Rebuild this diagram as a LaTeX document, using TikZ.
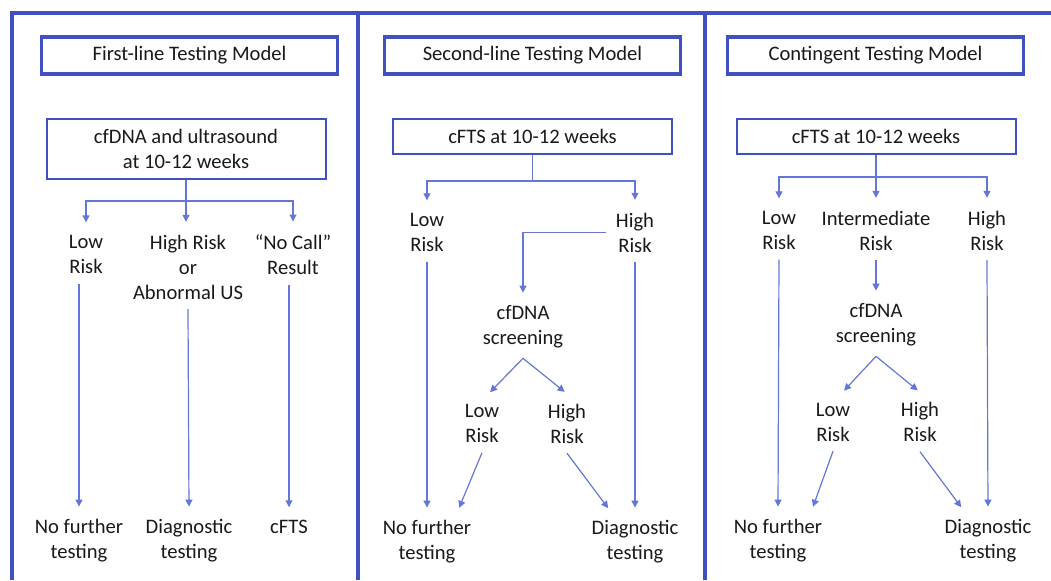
\documentclass[tikz,border=0pt]{standalone}
\usepackage{fontspec}
\setmainfont{Carlito}
\usepackage{tikz}
\usetikzlibrary{positioning,arrows.meta}
\usepackage{xcolor}
\definecolor{panelblue}{RGB}{64,80,190}
\definecolor{linkblue}{RGB}{100,118,215}

\begin{document}
\begin{tikzpicture}[x=0.5pt,y=-0.5pt,font=\fontsize{10.3}{12.5}\selectfont,
  frame/.style={draw=panelblue,line width=2pt},
  title/.style={draw=panelblue,line width=1.6pt,minimum width=148pt,minimum height=18.5pt,inner sep=0pt,text=black!90},
  box/.style={draw=panelblue,line width=1pt,minimum width=139.5pt,inner sep=0pt,align=center,text=black!90},
  lbl/.style={align=center,inner sep=0pt,outer sep=5pt,text=black!90},
  link/.style={draw=linkblue,line width=0.6pt},
  arr/.style={link,-{Triangle[length=3.5pt,width=3.5pt]},shorten >=1.5pt}]
\useasboundingbox (0,0) rectangle (1051,580);
% panels
\draw[frame] (12,580) -- (12,13) -- (1051,13);
\draw[frame] (358,13) -- (358,580);
\draw[frame] (705,13) -- (705,580);

% first-line
\node[title] (t1) at (189.5,55.5) {First-line Testing Model};
\node[box,minimum height=30pt] (b1) at (186,149) {cfDNA and ultrasound\\at 10-12 weeks};
\node[lbl] (lo1) at (86,254.5) {Low\\Risk};
\node[lbl] (hi1) at (188,267) {High Risk\\or\\Abnormal US};
\node[lbl] (nc1) at (293,254.5) {“No Call”\\Result};
\node[lbl] (nf1) at (79,541) {No further\\testing};
\node[lbl] (dx1) at (189,541) {Diagnostic\\testing};
\node[lbl] (cf1) at (289,527) {cFTS};
\draw[link] (b1.south) -- ++(0,21) coordinate (j1);
\draw[arr] (j1) -| (lo1.north);
\draw[arr] (j1) -| (nc1.north);
\draw[arr] (j1) -- (j1 |- hi1.north);
\draw[arr] (nf1.north |- lo1.south) -- (nf1.north);
\draw[arr] (hi1.south) -- (dx1.north);
\draw[arr] (cf1.north |- nc1.south) -- (cf1.north);

% second-line
\node[title] (t2) at (532.5,55.5) {Second-line Testing Model};
\node[box,minimum height=17.5pt] (b2) at (532.5,136.5) {cFTS at 10-12 weeks};
\node[lbl] (lo2) at (427,232.5) {Low\\Risk};
\node[lbl] (hi2) at (635,232.5) {High\\Risk};
\node[lbl] (sc2) at (523,327) {cfDNA\\screening};
\node[lbl] (lo2b) at (482,423.5) {Low\\Risk};
\node[lbl] (hi2b) at (567,423.5) {High\\Risk};
\node[lbl] (nf2) at (427,542) {No further\\testing};
\node[lbl] (dx2) at (635,542) {Diagnostic\\testing};
\draw[link] (b2.south) -- ++(0,26) coordinate (j2);
\draw[arr] (j2) -| (lo2.north);
\draw[arr] (j2) -| (hi2.north);
\draw[arr] (hi2.west) -| (sc2.north);
\draw[arr] (lo2.south) -- (nf2.north);
\draw[arr] (hi2.south) -- (dx2.north);
\draw[arr] (sc2.south) -- ([xshift=3pt]lo2b.north);
\draw[arr] (sc2.south) -- (hi2b.north);
\draw[arr] (lo2b.south) -- ([xshift=15.5pt]nf2.north);
\draw[arr] (hi2b.south) -- ([xshift=-12.5pt]dx2.north);

% contingent
\node[title] (t3) at (875.5,55.5) {Contingent Testing Model};
\node[box,minimum height=17.5pt] (b3) at (876,136.5) {cFTS at 10-12 weeks};
\node[lbl] (lo3) at (779,230.5) {Low\\Risk};
\node[lbl] (im3) at (876,230.5) {Intermediate\\Risk};
\node[lbl] (hi3) at (987,230.5) {High\\Risk};
\node[lbl] (sc3) at (876,325) {cfDNA\\screening};
\node[lbl] (lo3b) at (833,422) {Low\\Risk};
\node[lbl] (hi3b) at (920,422) {High\\Risk};
\node[lbl] (nf3) at (778,541) {No further\\testing};
\node[lbl] (dx3) at (988,541) {Diagnostic\\testing};
\draw[link] (b3.south) -- ++(0,22) coordinate (j3);
\draw[arr] (j3) -| (lo3.north);
\draw[arr] (j3) -| (hi3.north);
\draw[arr] (j3) -- (im3.north);
\draw[arr] (im3.south) -- (sc3.north);
\draw[arr] (lo3.south) -- (nf3.north);
\draw[arr] (hi3.south) -- (dx3.north);
\draw[arr] (sc3.south) -- ([xshift=4.5pt]lo3b.north);
\draw[arr] (sc3.south) -- (hi3b.north);
\draw[arr] (lo3b.south) -- ([xshift=17pt]nf3.north);
\draw[arr] (hi3b.south) -- ([xshift=-12.5pt]dx3.north);
\end{tikzpicture}
\end{document}
